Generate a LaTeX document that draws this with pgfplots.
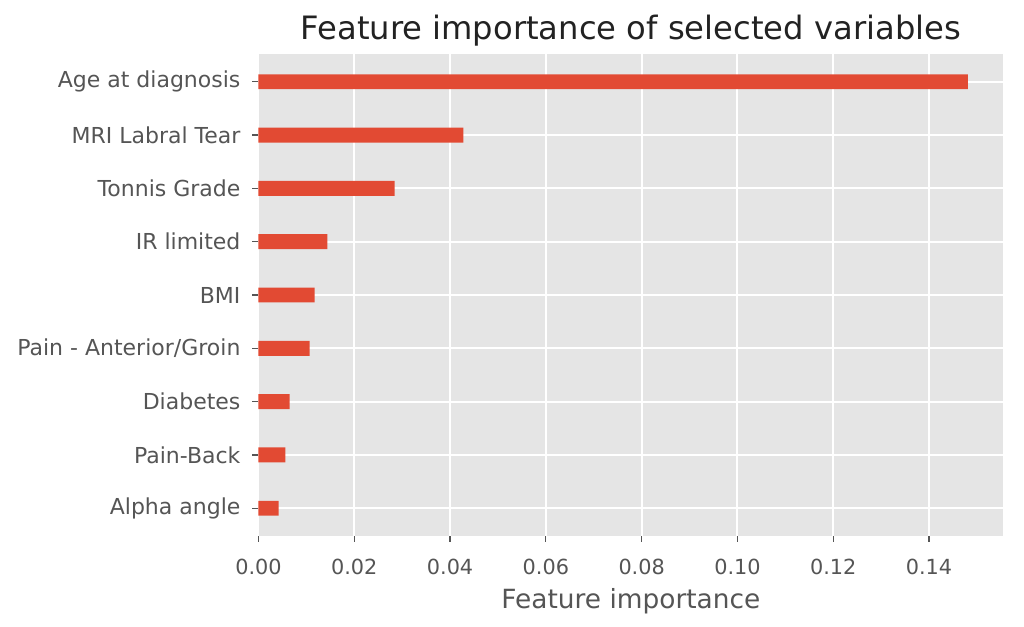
\documentclass[border=0pt]{standalone}
\usepackage{fontspec}
\setmainfont{DejaVu Sans}
\usepackage{pgfplots}
\pgfplotsset{compat=1.18}
\definecolor{ggbg}{HTML}{E5E5E5}
\definecolor{ggred}{HTML}{E24A33}
\definecolor{gglabel}{HTML}{555555}
\definecolor{ggtitle}{HTML}{222222}

\begin{document}
\begin{tikzpicture}
\useasboundingbox (-129.25pt,-45.5pt) rectangle (382.75pt,268pt);
\begin{axis}[
  at={(0,0)}, anchor=south west,
  width=372.4pt, height=241pt, scale only axis,
  xbar, bar width=0.28,
  xmin=0, xmax=0.1555, ymin=-0.52, ymax=8.52,
  axis background/.style={fill=ggbg},
  axis line style={draw=none},
  grid=major, major grid style={white, line width=1pt},
  tick align=outside, major tick length=3pt,
  tick style={gglabel, line width=0.6pt},
  tick pos=left,
  scaled ticks=false,
  xtick={0,0.02,0.04,0.06,0.08,0.10,0.12,0.14},
  ytick={0,1,2,3,4,5,6,7,8},
  yticklabels={Alpha angle, Pain-Back, Diabetes, Pain - Anterior/Groin, BMI, IR limited, Tonnis Grade, MRI Labral Tear, Age at diagnosis},
  /pgf/number format/assume math mode=true,
  xticklabel={\pgfmathprintnumber[fixed, fixed zerofill, precision=2]{\tick}},
  xticklabel style={font=\fontsize{10.4}{12}\selectfont, text=gglabel, yshift=-5pt},
  yticklabel style={font=\fontsize{11}{13}\selectfont, text=gglabel, xshift=-2.5pt},
  title={Feature importance of selected variables},
  title style={at={(axis description cs:0.5,1)}, anchor=base, yshift=1.5pt,
    font=\fontsize{16.1}{19}\selectfont, text=ggtitle},
  xlabel={Feature importance},
  xlabel style={at={(axis description cs:0.5,0)}, anchor=base, yshift=-36.5pt,
    font=\fontsize{13.2}{16}\selectfont, text=gglabel},
]
\addplot[fill=ggred, draw=none] coordinates {
  (0.0042,0) (0.0056,1) (0.0065,2) (0.0107,3) (0.0117,4)
  (0.0144,5) (0.0284,6) (0.0428,7) (0.1481,8)
};
\end{axis}
\end{tikzpicture}
\end{document}
